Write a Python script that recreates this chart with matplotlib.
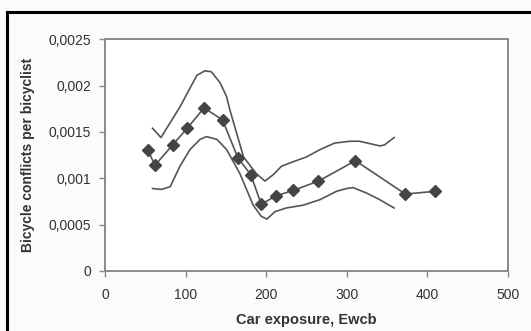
import matplotlib
matplotlib.use("Agg")
import matplotlib.pyplot as plt
from matplotlib.lines import Line2D
from matplotlib.ticker import FuncFormatter

# Mean conflicts per bicyclist (diamond markers)
mean_x = [53, 62, 84, 102, 123, 146, 165, 181, 194, 212, 234, 265, 311, 373, 410]
mean_y = [0.00131, 0.00114, 0.00136, 0.00154, 0.00176, 0.00163, 0.00122, 0.00104,
          0.00072, 0.00081, 0.00087, 0.00097, 0.00119, 0.00083, 0.00086]

# Upper confidence curve
upper_x = [59, 69.5, 93, 114, 124, 132, 143, 151, 155, 172, 188, 198.5, 209, 219,
           234, 250, 267, 285, 304, 316, 341, 347, 359]
upper_y = [0.00154, 0.00144, 0.00177, 0.00211, 0.00216, 0.00215, 0.00203, 0.00188,
           0.00174, 0.00123, 0.00105, 0.00097, 0.00104, 0.00113, 0.00118, 0.00123,
           0.00131, 0.00138, 0.00140, 0.00140, 0.00135, 0.00136, 0.00144]

# Lower confidence curve
lower_x = [59, 70, 81, 93, 105.5, 118, 126, 139, 151, 167.5, 184, 194, 201, 211,
           225, 246, 267, 287.5, 300, 308, 325, 341, 359]
lower_y = [0.00089, 0.00088, 0.00091, 0.00113, 0.00131, 0.00142, 0.00145, 0.00142,
           0.00131, 0.00105, 0.00071, 0.00059, 0.00056, 0.00064, 0.00068, 0.00071,
           0.00077, 0.00086, 0.00089, 0.00090, 0.00084, 0.00077, 0.00068]

x_ticks = [0, 100, 200, 300, 400, 500]
y_ticks = [0, 0.0005, 0.001, 0.0015, 0.002, 0.0025]
y_tick_labels = ["0", "0,0005", "0,001", "0,0015", "0,002", "0,0025"]

plt.rcParams['font.family'] = ['Liberation Sans', 'DejaVu Sans']

W, H = 531, 331
fig = plt.figure(figsize=(W / 100, H / 100), dpi=100)
fig.patch.set_facecolor("#fbfbfb")
ax = fig.add_axes([105 / W, 1 - 271 / H, (507.7 - 105) / W, (271 - 39.3) / H])
ax.set_facecolor("white")

line_col = "#555555"
ax.plot(upper_x, upper_y, color=line_col, lw=1.2)
ax.plot(lower_x, lower_y, color=line_col, lw=1.2)
ax.plot(mean_x, mean_y, color=line_col, lw=1.2, marker="D", markersize=6.5,
        markerfacecolor="#444444", markeredgecolor="#444444")

ax.set_xlim(0, 500)
ax.set_ylim(0, 0.0025)
ax.set_xticks(x_ticks)
ax.set_yticks(y_ticks)
ax.set_yticklabels(y_tick_labels)

for s in ax.spines.values():
    s.set_color("#8a8a8a")
    s.set_linewidth(1.4)

ax.tick_params(axis="both", direction="out", length=4, width=1, color="#8a8a8a",
               labelsize=10, labelcolor="#333333")
ax.tick_params(axis="y", pad=6)
ax.tick_params(axis="x", pad=8)

ax.set_xlabel("Car exposure, Ewcb", fontsize=10.5, fontweight="bold", color="#333333",
              labelpad=8)
ax.set_ylabel("Bicycle conflicts per bicyclist", fontsize=10, fontweight="bold",
              color="#333333", labelpad=10)

# black frame of the scanned figure (top and left edges visible)
fig.add_artist(Line2D([7 / W, 1.02], [1 - 12 / H, 1 - 12 / H], color="black", lw=2.2,
                      transform=fig.transFigure))
fig.add_artist(Line2D([7 / W, 7 / W], [-0.02, 1 - 12 / H], color="black", lw=2.2,
                      transform=fig.transFigure))

fig.savefig("out.png", dpi=100, facecolor=fig.get_facecolor())
